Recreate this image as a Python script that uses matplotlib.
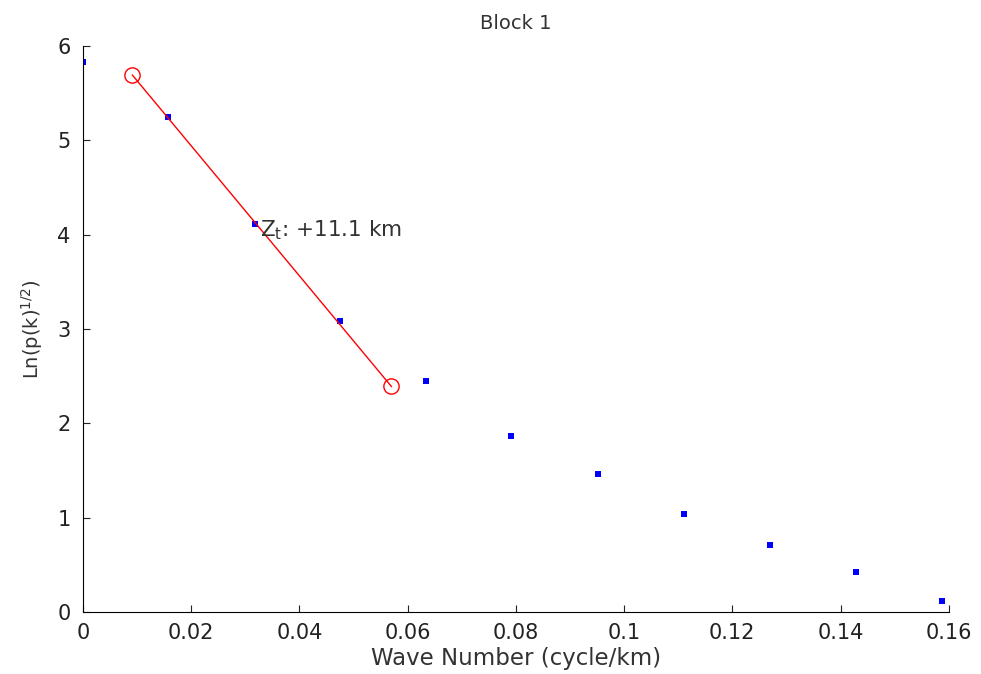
import matplotlib
matplotlib.use("Agg")
import matplotlib.pyplot as plt
import numpy as np

plt.rcParams['font.family'] = ['DejaVu Sans']
plt.rcParams['mathtext.fontset'] = 'dejavusans'

# ================= DATA =================
# wave number (cycle/km) and log power spectrum values
wave_number = [0.0, 0.01575, 0.0317, 0.0475, 0.0634, 0.0791, 0.0951, 0.1110, 0.1270, 0.1428, 0.1587]
ln_power = [5.83, 5.25, 4.11, 3.08, 2.45, 1.87, 1.46, 1.04, 0.71, 0.42, 0.12]

# fitted line end points
fit_k = [0.00913, 0.0570]
fit_y = [5.69, 2.39]

depth_label = r'$\mathregular{Z_t}$: +11.1 km'
depth_pos = (0.0328, 4.05)
# ========================================

fig = plt.figure(figsize=(9.81, 6.74), dpi=100)
ax = fig.add_axes([0.0846, 0.092, 0.8825, 0.840])

ax.plot(wave_number, ln_power, 's', color='blue', markersize=4, markeredgewidth=0)
ax.plot(fit_k, fit_y, '-', color='red', linewidth=1)
ax.plot(fit_k, fit_y, 'o', color='red', markerfacecolor='none', markersize=11, markeredgewidth=1)
ax.text(depth_pos[0], depth_pos[1], depth_label, fontsize=15.5, color='#333333', va='center', ha='left')

ax.set_xlim(0, 0.16)
ax.set_ylim(0, 6)
ax.set_xticks([0, 0.02, 0.04, 0.06, 0.08, 0.1, 0.12, 0.14, 0.16])
ax.set_xticklabels(['0', '0.02', '0.04', '0.06', '0.08', '0.1', '0.12', '0.14', '0.16'])
ax.set_yticks([0, 1, 2, 3, 4, 5, 6])

for side in ['top', 'right']:
    ax.spines[side].set_visible(False)
ax.tick_params(direction='in', length=5, labelsize=15, colors='#222222')
ax.tick_params(axis='x', pad=8)
ax.tick_params(axis='y', pad=9)

ax.set_xlabel('Wave Number (cycle/km)', fontsize=16.5, color='#333333', labelpad=3)
ax.set_ylabel(r'Ln(p(k)$^{1/2}$)', fontsize=14, color='#333333', labelpad=9)
ax.set_title('Block 1', fontsize=14, color='#333333', pad=12)

fig.savefig("out.png", dpi=100)
